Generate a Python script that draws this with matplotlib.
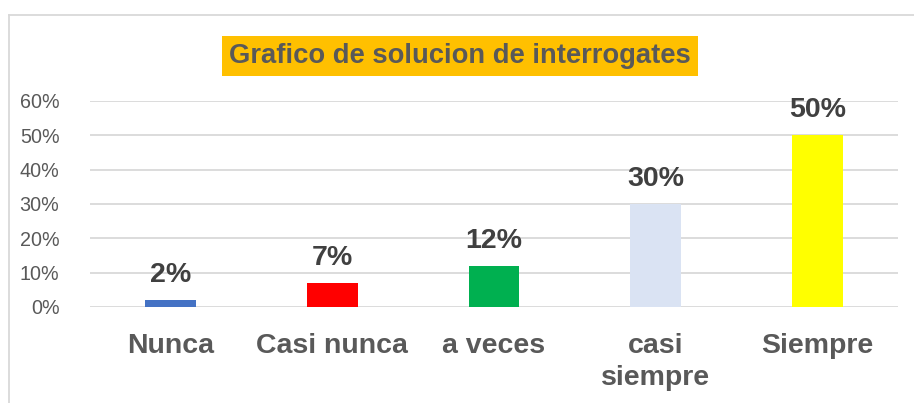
import matplotlib.pyplot as plt
from matplotlib.lines import Line2D

categories = ["Nunca", "Casi nunca", "a veces", "casi\nsiempre", "Siempre"]
values = [0.02, 0.07, 0.12, 0.30, 0.50]
labels = ["2%", "7%", "12%", "30%", "50%"]
colors = ["#4472C4", "#FF0000", "#00B050", "#DAE3F3", "#FFFF00"]
yticks = [0, 0.1, 0.2, 0.3, 0.4, 0.5, 0.6]
ytick_labels = ["0%", "10%", "20%", "30%", "40%", "50%", "60%"]


def main():
    plt.rcParams['font.family'] = ['Liberation Sans', 'DejaVu Sans']
    W, H = 914, 403
    fig = plt.figure(figsize=(W / 100, H / 100), dpi=100)
    ax = fig.add_axes([90 / W, (H - 307) / H, (898 - 90) / W, (307 - 101) / H])

    x = list(range(len(categories)))
    ax.bar(x, values, width=0.315, color=colors, zorder=3)

    for xi, v, lab in zip(x, values, labels):
        ax.annotate(lab, (xi, v), xytext=(0, 13), textcoords="offset points",
                    ha="center", va="baseline", fontsize=20.5,
                    fontweight="bold", color="#404040")

    ax.set_xlim(-0.5, 4.5)
    ax.set_ylim(0, 0.6)
    ax.set_yticks(yticks)
    ax.set_yticklabels(ytick_labels, fontsize=14.2, color="#595959")
    ax.set_xticks(x)
    ax.set_xticklabels(categories, fontsize=20.5, fontweight="bold",
                       color="#595959", linespacing=1.3)
    ax.tick_params(axis="both", length=0)
    ax.tick_params(axis="x", pad=19)
    ax.tick_params(axis="y", pad=22)
    ax.grid(axis="y", color="#D9D9D9", linewidth=1.3, zorder=0)
    for s in ax.spines.values():
        s.set_visible(False)

    fig.text(460 / W, 1 - 56 / H, "Grafico de solucion de interrogates",
             ha="center", va="center", fontsize=19.7, fontweight="bold",
             color="#595959",
             bbox=dict(boxstyle="square,pad=0.27", facecolor="#FFC000",
                       edgecolor="none"))

    # chart area border (left and top only visible)
    fig.add_artist(Line2D([8.5 / W, 8.5 / W], [0, 1 - 14.5 / H],
                          transform=fig.transFigure, color="#D9D9D9", lw=1.3))
    fig.add_artist(Line2D([8.5 / W, 1], [1 - 14.5 / H, 1 - 14.5 / H],
                          transform=fig.transFigure, color="#D9D9D9", lw=1.3))

    fig.savefig("out.png", dpi=100)


if __name__ == "__main__":
    main()
